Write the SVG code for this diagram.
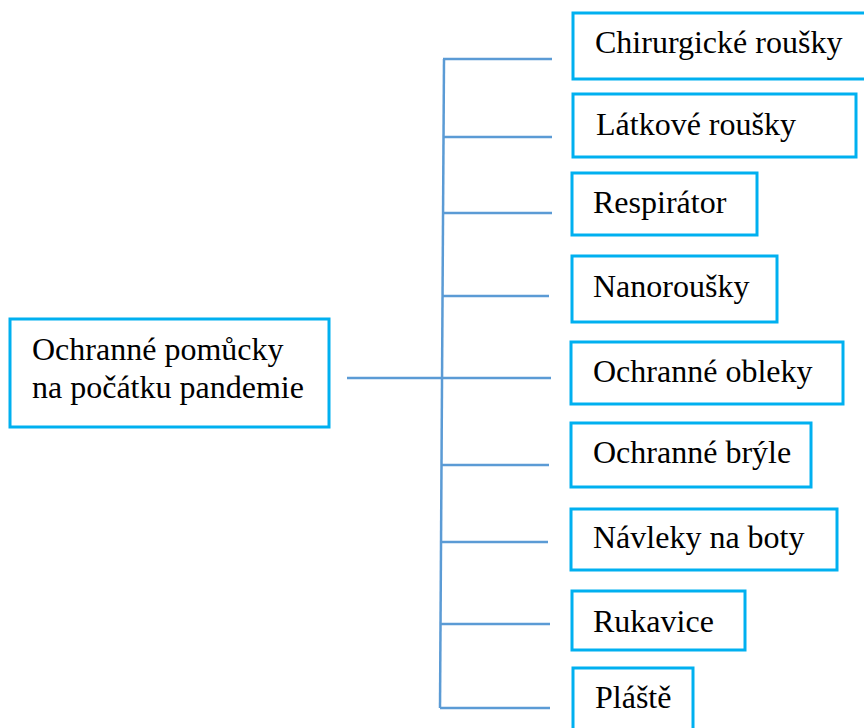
<svg xmlns="http://www.w3.org/2000/svg" width="864" height="728" viewBox="0 0 864 728">
<style>
.box{fill:#fff;stroke:#00B0F0;stroke-width:3}
.t{font-family:"Liberation Serif","Times New Roman",serif;font-size:32px;fill:#000}
.c{stroke:#5B9BD5;stroke-width:2.5;fill:none}
</style>
<rect width="864" height="728" fill="#fff"/>
<g id="connectors">
<line class="c" x1="444" y1="59" x2="440" y2="708"/>
<line class="c" x1="347" y1="378" x2="551" y2="378"/>
<line class="c" x1="443" y1="59" x2="552" y2="59"/>
<line class="c" x1="443" y1="137" x2="552" y2="137"/>
<line class="c" x1="443" y1="213" x2="552" y2="213"/>
<line class="c" x1="443" y1="296" x2="549" y2="296"/>
<line class="c" x1="441" y1="465" x2="549" y2="465"/>
<line class="c" x1="441" y1="542" x2="548" y2="542"/>
<line class="c" x1="440" y1="624" x2="550" y2="624"/>
<line class="c" x1="440" y1="708" x2="550" y2="708"/>
</g>
<g id="root">
<rect class="box" x="10" y="319" width="319" height="108"/>
<text class="t" x="32" y="360">Ochranné pomůcky</text>
<text class="t" x="32" y="398">na počátku pandemie</text>
</g>
<g id="n1">
<rect class="box" x="573" y="13" width="300" height="66"/>
<text class="t" x="595" y="53">Chirurgické roušky</text>
</g>
<g id="n2">
<rect class="box" x="573" y="94" width="283" height="63"/>
<text class="t" x="596" y="135">Látkové roušky</text>
</g>
<g id="n3">
<rect class="box" x="572" y="173" width="185" height="62"/>
<text class="t" x="593" y="213">Respirátor</text>
</g>
<g id="n4">
<rect class="box" x="572" y="256" width="205" height="66"/>
<text class="t" x="593" y="297">Nanoroušky</text>
</g>
<g id="n5">
<rect class="box" x="571" y="342" width="272" height="62"/>
<text class="t" x="593" y="382">Ochranné obleky</text>
</g>
<g id="n6">
<rect class="box" x="571" y="423" width="240" height="64"/>
<text class="t" x="593" y="463">Ochranné brýle</text>
</g>
<g id="n7">
<rect class="box" x="571" y="509" width="266" height="61"/>
<text class="t" x="593" y="548">Návleky na boty</text>
</g>
<g id="n8">
<rect class="box" x="572" y="591" width="173" height="59"/>
<text class="t" x="593" y="632">Rukavice</text>
</g>
<g id="n9">
<rect class="box" x="573" y="668" width="120" height="70"/>
<text class="t" x="595" y="708">Pláště</text>
</g>
</svg>
